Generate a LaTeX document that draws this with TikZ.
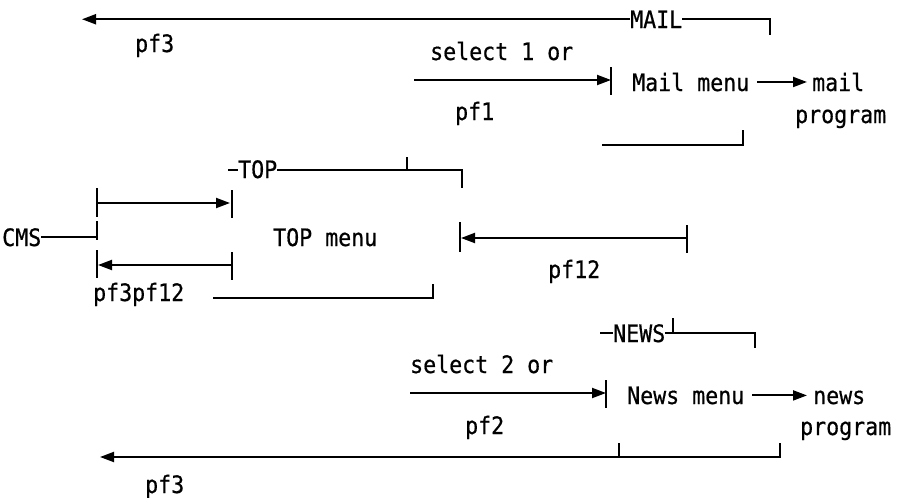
\documentclass[tikz,border=0pt]{standalone}
\usepackage{fontspec}
\setmonofont[FakeStretch=0.9,FakeBold=0.6]{DejaVu Sans Mono}
\usetikzlibrary{arrows.meta}
\tikzset{
  lbl/.style={font=\ttfamily\fontsize{24}{28}\selectfont, inner sep=0pt, anchor=base west},
  ln/.style={line width=2pt, line cap=butt},
  arr/.style={ln, -{Triangle[length=14pt,width=10pt]}},
}
\begin{document}
\begin{tikzpicture}[x=1pt,y=-1pt]
\useasboundingbox (0,0) rectangle (898,498);

% ---- MAIL branch ----
\node[lbl] (mailhdr) at (630,28) {MAIL};
\coordinate (mailtick) at (770,35);
\coordinate (mailback) at (82,19);
\draw[ln] (mailhdr.east) -- (mailtick |- mailhdr.east) -- (mailtick);
\draw[arr] (mailhdr.west) -- (mailback |- mailhdr.west);
\node[lbl] (pfthreeA) at (135,52) {pf3};

\node[lbl] (selone) at (430,60) {select 1 or};
\node[lbl] (pfone) at (455,120) {pf1};
\coordinate (selonestart) at (414,80);
\coordinate (mbarT) at (611,67);
\coordinate (mbarB) at (611,95);
\draw[arr] (selonestart) -- (selonestart -| mbarT);
\draw[ln] (mbarT) -- (mbarB);

\node[lbl] (mailmenu) at (632,91) {Mail menu};
\node[lbl] (mailword) at (812,91) {mail};
\node[lbl] (mailprog) at (795,123) {program};
\draw[arr, shorten <=8pt, shorten >=5pt] (mailmenu.east) -- (mailmenu.east -| mailword.west);
\coordinate (mbrL) at (602,145);
\coordinate (mbrR) at (743,130);
\draw[ln] (mbrL) -- (mbrL -| mbrR) -- (mbrR);

% ---- TOP menu ----
\node[lbl] (tophdr) at (238,178) {TOP};
\coordinate (topdash) at (228,170);
\coordinate (topcorner) at (462,188);
\coordinate (toptick) at (407,157);
\draw[ln] (topdash) -- (topdash -| tophdr.west);
\draw[ln] (tophdr.east |- topdash) -- (topcorner |- topdash) -- (topcorner);
\draw[ln] (toptick |- topdash) -- (toptick);

\node[lbl] (cms) at (2,246) {CMS};
\coordinate (cmsbar) at (97,237);
\draw[ln] (cms.east) -- (cms.east -| cmsbar);
\draw[ln] (97,221) -- (97,240);

\coordinate (fwdL) at (97,203);
\coordinate (fwdR) at (232,203);
\draw[ln] (97,188) -- (97,217);
\draw[ln] (232,190) -- (232,218);
\draw[arr, shorten >=2pt] (fwdL) -- (fwdR);

\coordinate (bckL) at (97,265);
\coordinate (bckR) at (232,265);
\draw[ln] (97,250) -- (97,278);
\draw[ln] (232,252) -- (232,280);
\draw[arr, shorten >=1pt] (bckR) -- (bckL);

\node[lbl] (topmenu) at (273,246) {TOP menu};
\node[lbl] (pfthreetwelve) at (93,301) {pf3pf12};
\coordinate (tbrL) at (213,298);
\coordinate (tbrR) at (433,284);
\draw[ln] (tbrL) -- (tbrL -| tbrR) -- (tbrR);

\coordinate (retL) at (460,238);
\coordinate (retR) at (687,238);
\draw[ln] (460,222) -- (460,252);
\draw[ln] (687,225) -- (687,253);
\draw[arr, shorten >=1pt] (retR) -- (retL);
\node[lbl] (pftwelve) at (548,278) {pf12};

% ---- NEWS branch ----
\node[lbl] (newshdr) at (613,342) {NEWS};
\coordinate (newsdash) at (600,333);
\coordinate (newscorner) at (755,348);
\coordinate (newstick) at (673,318);
\draw[ln] (newsdash) -- (newsdash -| newshdr.west);
\draw[ln] (newshdr.east |- newsdash) -- (newscorner |- newsdash) -- (newscorner);
\draw[ln] (newstick |- newsdash) -- (newstick);

\node[lbl] (seltwo) at (410,373) {select 2 or};
\node[lbl] (pftwo) at (465,434) {pf2};
\coordinate (seltwostart) at (410,393);
\coordinate (nbarT) at (606,380);
\coordinate (nbarB) at (606,408);
\draw[arr] (seltwostart) -- (seltwostart -| nbarT);
\draw[ln] (nbarT) -- (nbarB);

\node[lbl] (newsmenu) at (627,404) {News menu};
\node[lbl] (newsword) at (813,404) {news};
\node[lbl] (newsprog) at (800,435) {program};
\draw[arr, shorten <=8pt, shorten >=6pt] (newsmenu.east) -- (newsmenu.east -| newsword.west);

\coordinate (nbrR) at (780,443);
\coordinate (nbrM) at (619,443);
\coordinate (newsback) at (100,457);
\draw[ln] (nbrM) -- (nbrM |- newsback);
\draw[arr] (nbrR) -- (nbrR |- newsback) -- (newsback);
\node[lbl] (pfthreeB) at (145,493) {pf3};
\end{tikzpicture}
\end{document}
